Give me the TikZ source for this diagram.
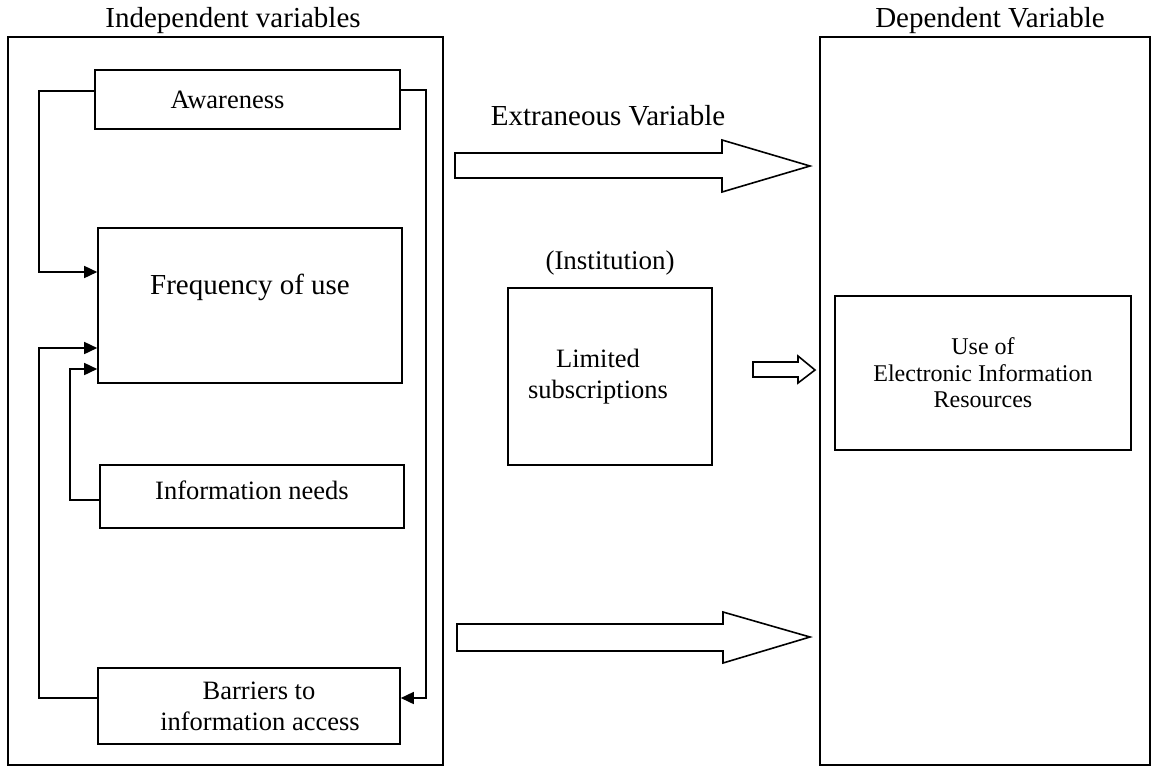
\documentclass[tikz,border=0pt]{standalone}
\usepackage{fontspec}
\setmainfont{Liberation Serif}
\usetikzlibrary{arrows.meta,calc}
\begin{document}
\begin{tikzpicture}[x=1pt,y=-1pt,
  box/.style={draw, line width=1.6pt, inner sep=0pt, align=center,
    font=\fontsize{26.5}{31}\selectfont},
  frame/.style={draw, line width=1.4pt, inner sep=0pt},
  title/.style={font=\fontsize{29}{33}\selectfont, inner sep=0pt},
  conn/.style={line width=1.6pt, -{Triangle[length=13pt,width=12pt]}},
  blockarrow/.style={draw, line width=1.6pt, fill=white, line join=miter}]
\useasboundingbox (0,0) rectangle (1153,766);

% containers
\node[frame, minimum width=435pt, minimum height=728pt] (indep) at (225.5,401) {};
\node[frame, minimum width=330pt, minimum height=728pt] (dep) at (985,401) {};
\node[title] (indeptitle) at (233,21) {Independent variables};
\node[title] (deptitle) at (990,21) {Dependent Variable};

% independent variable boxes
\node[box, minimum width=305pt, minimum height=59pt] (aw) at (247.5,99.5) {Awareness\hspace*{40pt}};
\node[box, minimum width=304pt, minimum height=155pt,
  label={[font=\fontsize{29}{33}\selectfont, yshift=18pt]center:Frequency of use}] (fr) at (250,305.5) {};
\node[box, minimum width=304pt, minimum height=63pt,
  label={[font=\fontsize{26.5}{31}\selectfont, yshift=6pt]center:Information needs}] (in) at (252,496.5) {};
\node[box, minimum width=302pt, minimum height=76pt] (bar) at (249,706) {\hspace*{20pt}Barriers to\\\hspace*{22pt}information access};

% connectors
\draw[conn] ([yshift=8.5pt]aw.west) -- ++(-55,0) |- ([yshift=33.5pt]fr.west);
\draw[conn] ([yshift=9.5pt]aw.east) -- ++(25,0) |- ([yshift=8pt]bar.east);
\draw[conn] ([yshift=8pt]bar.west) -- ++(-58,0) |- ([yshift=-42.5pt]fr.west);
\draw[conn] ([yshift=-3.5pt]in.west) -- ++(-29,0) |- ([yshift=-63.5pt]fr.west);

% extraneous variable
\node[title] (extra) at (608,116) {Extraneous Variable};
\node[title, font=\fontsize{27}{31}\selectfont] (inst) at (610,263) {(Institution)};
\node[box, minimum width=204pt, minimum height=177pt] (lim) at (610,376.5) {Limited\hspace*{24pt}\\subscriptions\hspace*{24pt}};

% dependent variable box
\node[box, minimum width=296pt, minimum height=154pt, font=\fontsize{24}{26.5}\selectfont] (use) at (983,373) {Use of\\Electronic Information\\Resources};

% block arrows
\coordinate (a1) at (455,165.5);
\coordinate (a2) at (753,369.5);
\coordinate (a3) at (457,637.5);
\draw[blockarrow] (a1) ++(0,-12.5) -- ++(267,0) -- ++(0,-13) -- (810,166) -- (722,192) -- (722,178) -- (455,178) -- cycle;
\draw[blockarrow] (a2) ++(0,-7.5) -- ++(45,0) -- ++(0,-6) -- (815,370) -- (798,383) -- (798,377) -- (753,377) -- cycle;
\draw[blockarrow] (a3) ++(0,-13.5) -- ++(266,0) -- ++(0,-12) -- (810,637) -- (723,663) -- (723,651) -- (457,651) -- cycle;
\end{tikzpicture}
\end{document}
